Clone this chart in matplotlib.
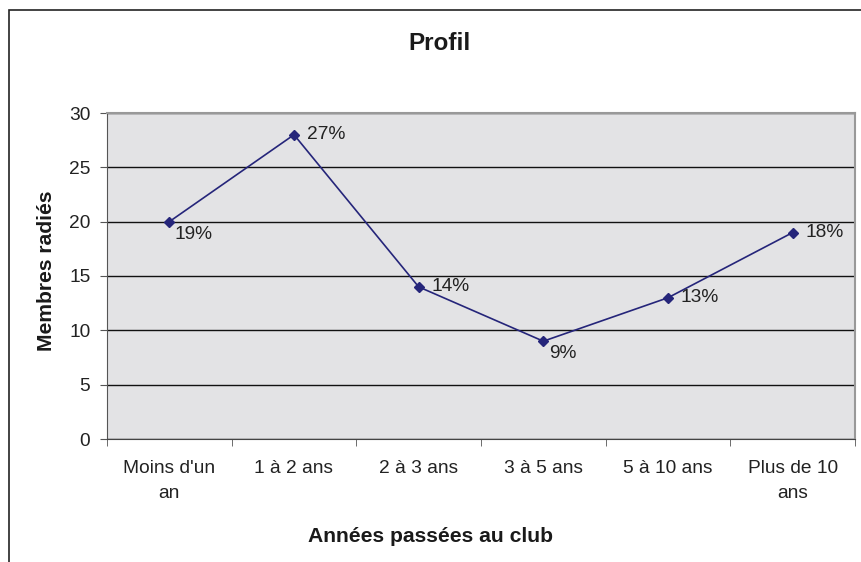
import matplotlib
matplotlib.use('Agg')
import matplotlib.pyplot as plt
from matplotlib.patches import Rectangle
import numpy as np

plt.rcParams['font.family'] = ['Liberation Sans', 'DejaVu Sans']

categories = ["Moins d'un\nan", "1 à 2 ans", "2 à 3 ans", "3 à 5 ans", "5 à 10 ans", "Plus de 10\nans"]
membres = [20, 28, 14, 9, 13, 19]
pourcents = ["19%", "27%", "14%", "9%", "13%", "18%"]
# label offsets (points): to the right, some below
offsets = [(4, -9), (9, 0), (9, 0), (4, -9), (9, 0), (9, 0)]

fig = plt.figure(figsize=(8.61, 5.62), dpi=100)
fig.patches.append(Rectangle((9 / 861, -0.1), 1.1, 1 - 10 / 562 + 0.1, transform=fig.transFigure,
                             fill=False, edgecolor='#222222', linewidth=1.2))

ax = fig.add_axes([107 / 861, 1 - 439 / 562, (855 - 107) / 861, (439 - 113) / 562])
ax.set_facecolor('#e3e3e5')

x = np.arange(len(categories))
ax.plot(x, membres, color='#25257a', linewidth=1.2, marker='D', markersize=5.5, zorder=3)
for xi, yi, lab, off in zip(x, membres, pourcents, offsets):
    ax.annotate(lab, (xi, yi), xytext=off, textcoords='offset points', fontsize=13.8,
                ha='left', va='center', color='#222222')

ax.set_xlim(-0.5, len(categories) - 0.5)
ax.set_ylim(0, 30)
ax.set_yticks(range(0, 31, 5))
ax.set_xticks(x)
ax.set_xticklabels(categories, fontsize=13.8, color='#222222', linespacing=1.6)
ax.set_xticks(np.arange(-0.5, len(categories), 1), minor=True)
ax.tick_params(axis='x', which='major', length=0, pad=15)
ax.tick_params(axis='x', which='minor', length=5, color='#555555', direction='out')
ax.tick_params(axis='y', length=5, color='#555555', labelsize=13.8, labelcolor='#222222', pad=7)
ax.grid(axis='y', color='#111111', linewidth=1)
ax.set_axisbelow(True)

for s in ['top', 'right']:
    ax.spines[s].set_color('#999999')
    ax.spines[s].set_linewidth(1.5)
ax.spines['left'].set_color('#555555')
ax.spines['bottom'].set_color('#444444')

fig.text(440 / 861, 1 - 44 / 562, "Profil", fontsize=17.5, fontweight='bold', ha='center', va='center',
         color='#1a1a1a')
fig.text(430 / 861, 1 - 537 / 562, "Années passées au club", fontsize=15.2, fontweight='bold', ha='center',
         va='center', color='#1a1a1a')
fig.text(47 / 861, 1 - 271 / 562, "Membres radiés", fontsize=15.2, fontweight='bold', ha='center', va='center',
         rotation=90, color='#1a1a1a')

fig.savefig('out.png', dpi=100)
